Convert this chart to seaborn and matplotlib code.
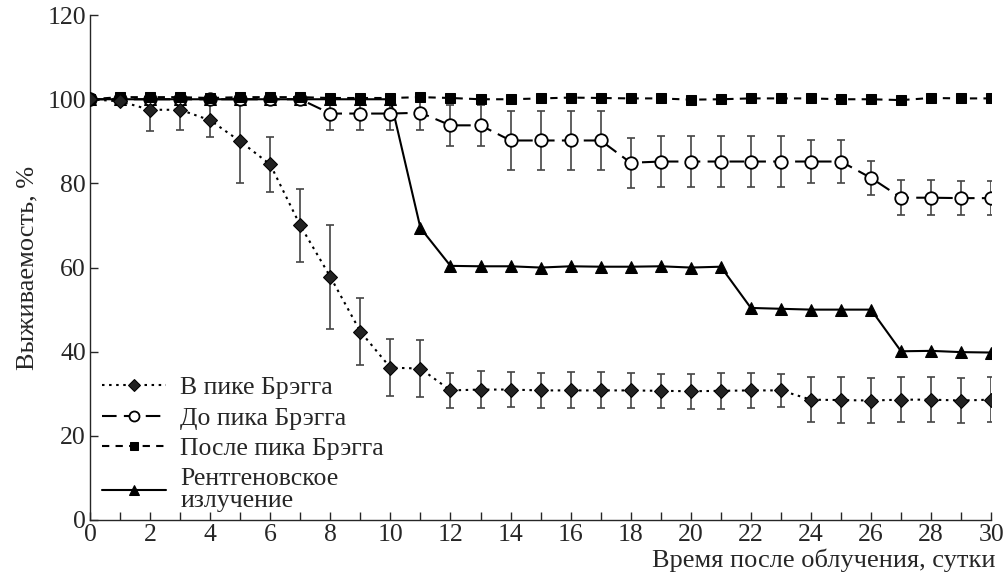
import numpy as np
import pandas as pd
import matplotlib
matplotlib.use("Agg")
import matplotlib.pyplot as plt
import seaborn as sns
from matplotlib.ticker import MultipleLocator

# стиль
sns.set_style("ticks")
plt.rcParams['font.family'] = ['Liberation Serif', 'DejaVu Serif']

# данные: сутки и выживаемость, %
days = list(range(31))

bragg_in = [100, 99.5, 97.5, 97.5, 95, 90, 84.5, 70, 57.8, 44.8, 36.2, 36, 30.8, 31, 31, 30.8,
            30.8, 30.8, 30.8, 30.7, 30.6, 30.7, 30.8, 30.8, 28.6, 28.5, 28.4, 28.6, 28.6, 28.4, 28.6]
bragg_in_err = [0, 0, 5, 4.8, 4, 9.8, 6.5, 8.7, 12.3, 8, 6.7, 6.8, 4.2, 4.3, 4.1, 4.2,
                4.3, 4.3, 4.2, 4.1, 4.2, 4.3, 4.2, 4.0, 5.4, 5.4, 5.4, 5.4, 5.4, 5.3, 5.3]

bragg_before = [100, 100, 100, 100, 100, 100, 100, 100, 96.6, 96.6, 96.6, 96.8, 93.8, 93.8, 90.2, 90.2,
                90.2, 90.2, 84.9, 85.2, 85.2, 85.2, 85.2, 85.2, 85.2, 85.2, 81.3, 76.6, 76.6, 76.5, 76.5]
bragg_before_err = [0, 0, 0, 0, 0, 0, 0, 0, 4, 4, 4, 4, 4.8, 4.8, 7, 7.1,
                    7.1, 7.1, 6, 6, 6, 6, 6, 6, 5.2, 5.2, 4.1, 4.1, 4.1, 4.1, 4.1]

bragg_after = [100, 100.5, 100.5, 100.5, 100.3, 100.5, 100.5, 100.5, 100.3, 100.3, 100.3, 100.5, 100.3, 100.0,
               100.0, 100.2, 100.4, 100.3, 100.2, 100.2, 99.9, 100, 100.2, 100.2, 100.2, 100, 100, 99.8,
               100.3, 100.2, 100.2]

xray = [100, 100, 100, 100, 100, 100, 100, 100, 100, 100, 100, 69.4, 60.4, 60.3, 60.3, 60.0,
        60.3, 60.2, 60.2, 60.3, 60.0, 60.2, 50.4, 50.2, 50.0, 50.0, 50.0, 40.1, 40.2, 39.9, 39.8]

labels = ['В пике Брэгга', 'До пика Брэгга', 'После пика Брэгга', 'Рентгеновское\nизлучение']

df = pd.DataFrame({'day': days, 'in': bragg_in, 'before': bragg_before,
                   'after': bragg_after, 'xray': xray})


def draw_err(ax, x, y, e):
    """усы только там, где есть разброс; сверху не выше 100 %"""
    x, y, e = np.array(x), np.array(y), np.array(e)
    m = e > 0
    lo = e[m]
    hi = np.minimum(e[m], 100 - y[m])
    ax.errorbar(x[m], y[m], yerr=[lo, hi], fmt='none', ecolor='#444444',
                elinewidth=1.2, capsize=3, capthick=1.2, zorder=2)


fig = plt.figure(figsize=(10.08, 5.81), dpi=100)
ax = fig.add_axes([0.0893, 0.105, 0.894, 0.869])

# рентген
sns.lineplot(data=df, x='day', y='xray', ax=ax, color='black', lw=1.5,
             marker='^', markersize=9, markeredgecolor='black', markerfacecolor='black',
             label=labels[3], zorder=3)
h_xray = ax.lines[-1]

# до пика
draw_err(ax, days, bragg_before, bragg_before_err)
sns.lineplot(data=df, x='day', y='before', ax=ax, color='black', lw=1.5,
             marker='o', markersize=9, markeredgecolor='black', markerfacecolor='white',
             markeredgewidth=1.3, label=labels[1], zorder=4)
h_before = ax.lines[-1]
h_before.set_dashes((7, 3.5))

# после пика
sns.lineplot(data=df, x='day', y='after', ax=ax, color='black', lw=1.5,
             marker='s', markersize=7, markeredgecolor='black', markerfacecolor='black',
             label=labels[2], zorder=5)
h_after = ax.lines[-1]
h_after.set_dashes((3.5, 3))

# в пике
draw_err(ax, days, bragg_in, bragg_in_err)
sns.lineplot(data=df, x='day', y='in', ax=ax, color='black', lw=1.5,
             marker='D', markersize=7.5, markeredgecolor='black', markerfacecolor='#222222',
             label=labels[0], zorder=6)
h_in = ax.lines[-1]
h_in.set_dashes((1.2, 2.2))

# оси
ax.set_xlim(0, 30)
ax.set_ylim(0, 120)
ax.xaxis.set_major_locator(MultipleLocator(2))
ax.xaxis.set_minor_locator(MultipleLocator(1))
ax.yaxis.set_major_locator(MultipleLocator(20))
ax.tick_params(axis='both', which='both', direction='in', length=6, width=1,
               labelsize=18.5, pad=3)
for s in ['top', 'right']:
    ax.spines[s].set_visible(False)
for s in ['left', 'bottom']:
    ax.spines[s].set_linewidth(1)

ax.set_ylabel('Выживаемость, %', fontsize=19, labelpad=6)
ax.set_xlabel('Время после облучения, сутки', fontsize=19)
ax.xaxis.set_label_coords(1.0045, -0.057)
ax.xaxis.label.set_ha('right')
ax.xaxis.label.set_va('top')

leg = ax.legend(handles=[h_in, h_before, h_after, h_xray], labels=labels,
                loc='upper left', bbox_to_anchor=(0.013, 0.285), frameon=False,
                fontsize=18.5, handlelength=2.5, handletextpad=0.55, labelspacing=0.3,
                markerscale=0.8, borderaxespad=0, borderpad=0)
plt.setp(leg.get_texts(), linespacing=1.0)

plt.savefig('out.png', dpi=100)
